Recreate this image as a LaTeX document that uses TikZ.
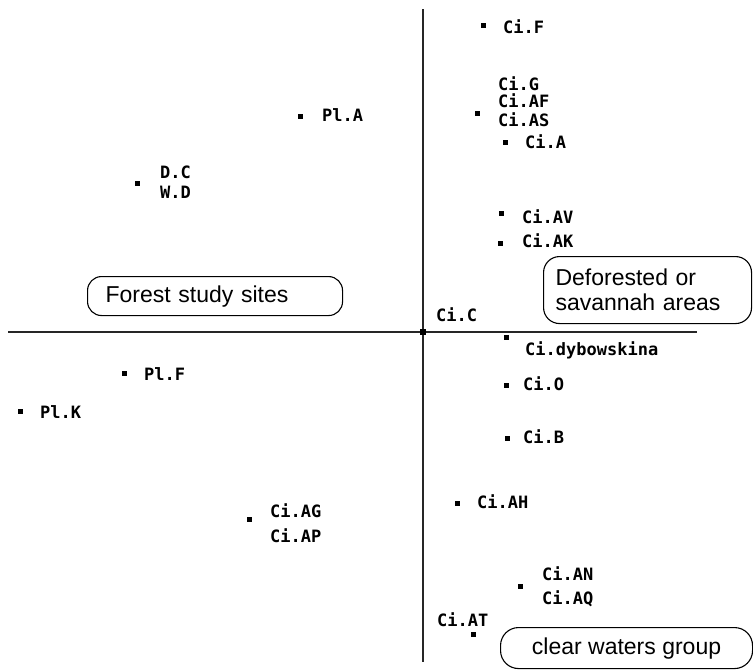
\documentclass[tikz,border=0pt]{standalone}
\usepackage{fontspec}
\setmainfont{Liberation Sans}
\newfontfamily\labfam{DejaVu Sans Mono}
\begin{document}
\begin{tikzpicture}[x=1pt,y=-1pt,
  mk/.style={rectangle,fill=black,inner sep=0pt,minimum size=5pt},
  lab/.style={anchor=base west,inner sep=0pt,font=\labfam\bfseries\fontsize{17}{17}\selectfont},
  grp/.style={draw,line width=1.1pt,rounded corners=14pt,inner ysep=0pt,
    font=\fontsize{23}{25}\selectfont},
  axis/.style={line width=1.2pt,draw=black!85}]
\useasboundingbox (0,0) rectangle (753,670);

% ordination axes
\coordinate (xl) at (8,332);
\coordinate (xr) at (697,332);
\coordinate (yt) at (423,9);
\coordinate (yb) at (423,662);
\draw[axis] (xl) -- (xr);
\draw[axis] (yt) -- (yb);
\node[mk,minimum size=6pt] (o) at (423,332) {};

% sites, upper right
\node[mk] (pF) at (483,25) {};   \node[lab] (lF) at (503,33) {Ci.F};
\node[mk] (pG) at (477,113) {};
\node[lab] (lG) at (498,90) {Ci.G};
\node[lab] (lAF) at (498,107) {Ci.AF};
\node[lab] (lAS) at (498,126) {Ci.AS};
\node[mk] (pA) at (505,142) {};  \node[lab] (lA) at (525,148) {Ci.A};
\node[mk] (pAV) at (501,213) {}; \node[lab] (lAV) at (522,223) {Ci.AV};
\node[mk] (pAK) at (500,243) {}; \node[lab] (lAK) at (522,247) {Ci.AK};
\node[lab] (lC) at (436,321) {Ci.C};

% sites, upper left
\node[mk] (pPA) at (300,116) {}; \node[lab] (lPA) at (322,121) {Pl.A};
\node[mk] (pDC) at (137,183) {};
\node[lab] (lDC) at (160,178) {D.C};
\node[lab] (lWD) at (160,198) {W.D};

% sites, lower left
\node[mk] (pPF) at (124,373) {}; \node[lab] (lPF) at (144,380) {Pl.F};
\node[mk] (pPK) at (20,411) {};  \node[lab] (lPK) at (40,418) {Pl.K};
\node[mk] (pAG) at (249,519) {};
\node[lab] (lAG) at (270,517) {Ci.AG};
\node[lab] (lAP) at (270,542) {Ci.AP};

% sites, lower right
\node[mk] (pDY) at (506,337) {}; \node[lab] (lDY) at (525,355) {Ci.dybowskina};
\node[mk] (pO) at (506,385) {};  \node[lab] (lO) at (523,390) {Ci.O};
\node[mk] (pB) at (507,438) {};  \node[lab] (lB) at (523,443) {Ci.B};
\node[mk] (pAH) at (457,503) {}; \node[lab] (lAH) at (477,508) {Ci.AH};
\node[mk] (pAN) at (520,586) {};
\node[lab] (lAN) at (542,580) {Ci.AN};
\node[lab] (lAQ) at (542,604) {Ci.AQ};
\node[lab] (lAT) at (437,626) {Ci.AT};
\node[mk] (pAT) at (473,634) {};

% group labels
\node[grp,anchor=north west,text width=219pt,inner xsep=18pt,align=left,
  minimum height=39pt] (forest) at (87,276) {Forest study sites};
\node[grp,anchor=north west,text width=184pt,inner xsep=12pt,align=left,
  minimum height=67pt,rounded corners=16pt] (defor) at (543,256)
  {Deforested or\\savannah areas};
\node[grp,anchor=north west,minimum width=252pt,minimum height=41pt,
  rounded corners=18pt] (clear) at (500,627) {clear waters group};
\end{tikzpicture}
\end{document}
